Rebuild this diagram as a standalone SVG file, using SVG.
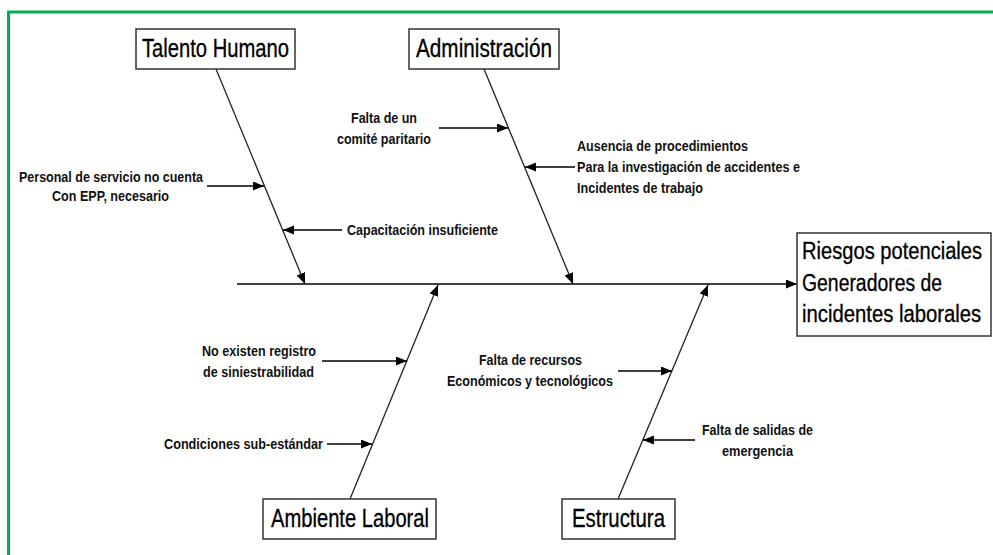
<svg xmlns="http://www.w3.org/2000/svg" width="993" height="555" viewBox="0 0 993 555">
<style>
.box{fill:#fff;stroke:#333;stroke-width:1.5}
.ttl{font-family:"Liberation Sans",Arial,sans-serif;font-size:25px;fill:#000;stroke:#000;stroke-width:0.3}
.lbl{font-family:"Liberation Sans",Arial,sans-serif;font-size:15.5px;font-weight:bold;fill:#111}
.br{stroke:#222;stroke-width:1.3;fill:none}
.ar{stroke:#000;stroke-width:1.3;fill:none}
</style>
<defs>
<marker id="ah" markerUnits="userSpaceOnUse" markerWidth="12" markerHeight="10" refX="11" refY="4.5" orient="auto">
<path d="M0,0 L11,4.5 L0,9 z" fill="#000"/>
</marker>
</defs>
<rect x="0" y="0" width="993" height="555" fill="#fff"/>
<rect x="8.5" y="12" width="1000" height="600" fill="none" stroke="#00b050" stroke-width="3"/>
<g id="connectors">
<line class="ar" x1="237" y1="284" x2="797" y2="284" stroke-width="1.8" marker-end="url(#ah)"/>
<line class="br" x1="216" y1="69" x2="305" y2="284" marker-end="url(#ah)"/>
<line class="br" x1="484" y1="69" x2="573" y2="284" marker-end="url(#ah)"/>
<line class="br" x1="350" y1="499" x2="438" y2="285" marker-end="url(#ah)"/>
<line class="br" x1="618" y1="499" x2="708" y2="285" marker-end="url(#ah)"/>
<line class="ar" x1="207" y1="186" x2="264" y2="186" marker-end="url(#ah)"/>
<line class="ar" x1="342" y1="230" x2="283" y2="230" marker-end="url(#ah)"/>
<line class="ar" x1="439" y1="128" x2="508" y2="128" marker-end="url(#ah)"/>
<line class="ar" x1="575" y1="167" x2="525" y2="167" marker-end="url(#ah)"/>
<line class="ar" x1="322" y1="361" x2="407" y2="361" marker-end="url(#ah)"/>
<line class="ar" x1="327" y1="444" x2="372" y2="444" marker-end="url(#ah)"/>
<line class="ar" x1="618" y1="371" x2="672" y2="371" marker-end="url(#ah)"/>
<line class="ar" x1="695" y1="440" x2="643" y2="440" marker-end="url(#ah)"/>
</g>
<g id="talento-humano">
<rect class="box" x="136" y="29" width="159" height="40"/>
<text class="ttl" x="142" y="57" textLength="147" lengthAdjust="spacingAndGlyphs">Talento Humano</text>
</g>
<g id="administracion">
<rect class="box" x="409" y="29" width="150" height="40"/>
<text class="ttl" x="416" y="57" textLength="136" lengthAdjust="spacingAndGlyphs">Administración</text>
</g>
<g id="ambiente-laboral">
<rect class="box" x="263" y="499" width="173" height="40"/>
<text class="ttl" x="271" y="527" textLength="158" lengthAdjust="spacingAndGlyphs">Ambiente Laboral</text>
</g>
<g id="estructura">
<rect class="box" x="562" y="499" width="113" height="40"/>
<text class="ttl" x="572" y="527" textLength="93" lengthAdjust="spacingAndGlyphs">Estructura</text>
</g>
<g id="riesgos">
<rect class="box" x="797" y="233" width="194" height="103"/>
<text class="ttl" style="font-size:23px" transform="translate(802,259) scale(0.87,1)" x="0" y="0" textLength="207" lengthAdjust="spacingAndGlyphs">Riesgos potenciales</text>
<text class="ttl" style="font-size:23px" transform="translate(802,291) scale(0.87,1)" x="0" y="0" textLength="161" lengthAdjust="spacingAndGlyphs">Generadores de</text>
<text class="ttl" style="font-size:23px" transform="translate(802,322) scale(0.87,1)" x="0" y="0" textLength="206" lengthAdjust="spacingAndGlyphs">incidentes laborales</text>
</g>
<g id="personal-servicio">
<text class="lbl" x="19" y="182" textLength="184" lengthAdjust="spacingAndGlyphs">Personal de servicio no cuenta</text>
<text class="lbl" x="52" y="201" textLength="117" lengthAdjust="spacingAndGlyphs">Con EPP, necesario</text>
</g>
<g id="capacitacion">
<text class="lbl" x="347" y="235" textLength="151" lengthAdjust="spacingAndGlyphs">Capacitación insuficiente</text>
</g>
<g id="falta-comite">
<text class="lbl" x="351" y="123" textLength="66" lengthAdjust="spacingAndGlyphs">Falta de un</text>
<text class="lbl" x="337" y="144" textLength="94" lengthAdjust="spacingAndGlyphs">comité paritario</text>
</g>
<g id="ausencia-procedimientos">
<text class="lbl" x="577" y="151" textLength="171" lengthAdjust="spacingAndGlyphs">Ausencia de procedimientos</text>
<text class="lbl" x="577" y="172" textLength="223" lengthAdjust="spacingAndGlyphs">Para la investigación de accidentes e</text>
<text class="lbl" x="577" y="193" textLength="126" lengthAdjust="spacingAndGlyphs">Incidentes de trabajo</text>
</g>
<g id="no-registro">
<text class="lbl" x="202" y="356" textLength="114" lengthAdjust="spacingAndGlyphs">No existen registro</text>
<text class="lbl" x="203" y="377" textLength="111" lengthAdjust="spacingAndGlyphs">de siniestrabilidad</text>
</g>
<g id="condiciones">
<text class="lbl" x="164" y="449" textLength="159" lengthAdjust="spacingAndGlyphs">Condiciones sub-estándar</text>
</g>
<g id="falta-recursos">
<text class="lbl" x="479" y="365" textLength="103" lengthAdjust="spacingAndGlyphs">Falta de recursos</text>
<text class="lbl" x="447" y="386" textLength="166" lengthAdjust="spacingAndGlyphs">Económicos y tecnológicos</text>
</g>
<g id="falta-salidas">
<text class="lbl" x="702" y="435" textLength="111" lengthAdjust="spacingAndGlyphs">Falta de salidas de</text>
<text class="lbl" x="722" y="456" textLength="71" lengthAdjust="spacingAndGlyphs">emergencia</text>
</g>
</svg>
